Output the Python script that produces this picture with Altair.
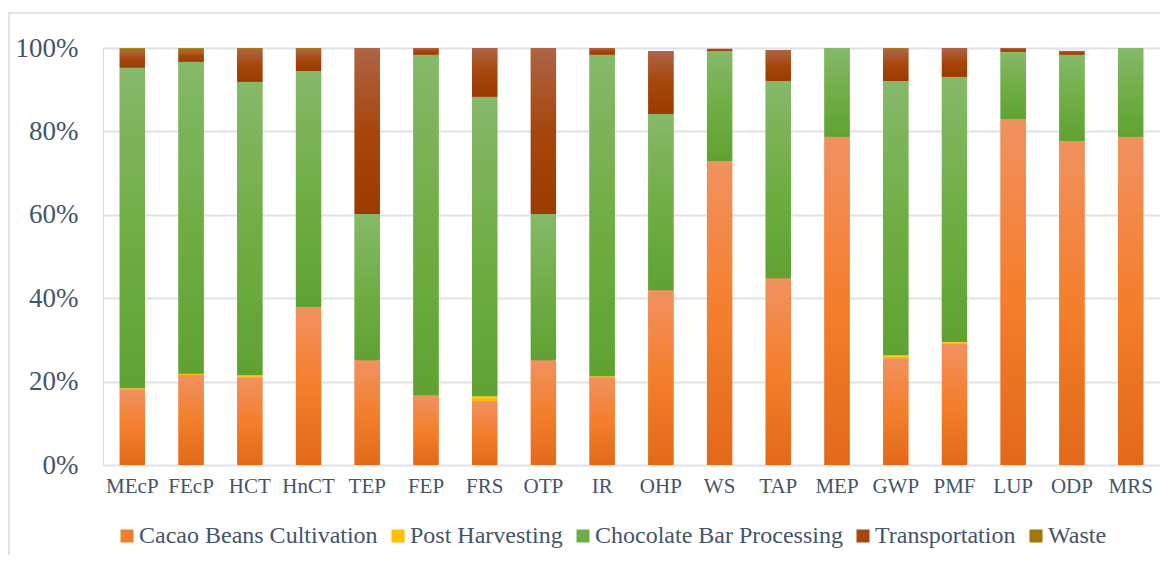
import altair as alt
import pandas as pd

categories = ["MEcP", "FEcP", "HCT", "HnCT", "TEP", "FEP", "FRS", "OTP", "IR",
              "OHP", "WS", "TAP", "MEP", "GWP", "PMF", "LUP", "ODP", "MRS"]
series = ["Cacao Beans Cultivation", "Post Harvesting", "Chocolate Bar Processing",
          "Transportation", "Waste"]

cacao = [18.1, 21.6, 20.9, 37.9, 25.1, 16.7, 15.3, 25.1, 21.0, 41.9, 72.9, 44.8, 78.7, 25.6, 29.0, 83.0, 77.7, 78.7]
post = [0.3, 0.3, 0.6, 0.0, 0.0, 0.0, 1.2, 0.0, 0.3, 0.0, 0.0, 0.0, 0.0, 0.7, 0.5, 0.0, 0.0, 0.0]
choc = [76.9, 74.8, 70.4, 56.6, 35.1, 81.7, 71.8, 35.1, 77.1, 42.3, 26.4, 47.3, 21.3, 65.8, 63.6, 16.1, 20.7, 21.3]
transport = [4.0, 2.6, 7.8, 5.2, 39.8, 1.6, 11.7, 39.8, 1.6, 15.1, 0.5, 7.4, 0.0, 7.5, 6.9, 0.9, 0.9, 0.0]
waste = [0.7, 0.7, 0.3, 0.3, 0.0, 0.0, 0.0, 0.0, 0.0, 0.0, 0.0, 0.0, 0.0, 0.4, 0.0, 0.0, 0.0, 0.0]

legend_colors = ["#F07F2E", "#FFC000", "#6FAD47", "#A5460D", "#A07708"]
gradient_stops = [
    ["#F19160", "#F47F2C", "#E2691A"],
    ["#FFD24A", "#FFC20E", "#EDB600"],
    ["#86B96A", "#71AE45", "#60A232"],
    ["#AE6446", "#A7460B", "#9A3B00"],
    ["#B4883A", "#A37700", "#946A00"],
]

values = [cacao, post, choc, transport, waste]
rows = []
for si, (s, vals) in enumerate(zip(series, values)):
    for c, v in zip(categories, vals):
        rows.append({"cat": c, "series": s, "value": v, "order": si})
df = pd.DataFrame(rows)

FONT = "Liberation Serif"
TXT = "#44546A"

x_axis = alt.Axis(title=None, labelAngle=0, domain=False, ticks=False, grid=False,
                  labelFont=FONT, labelFontSize=21, labelColor=TXT, labelPadding=10)
y_axis = alt.Axis(title=None, domain=False, ticks=False, grid=True,
                  gridColor="#DDE2E8", gridWidth=2,
                  values=[0, 20, 40, 60, 80, 100], labelExpr="datum.value + '%'",
                  labelFont=FONT, labelFontSize=27, labelColor=TXT, labelPadding=25)

x_enc = alt.X("cat:N", sort=categories, axis=x_axis,
              scale=alt.Scale(paddingInner=0.57, paddingOuter=0.285))
y_enc = alt.Y("y0:Q", axis=y_axis, scale=alt.Scale(domain=[0, 100], nice=False, zero=True))
y2_enc = alt.Y2("y1:Q")

base = alt.Chart(df).transform_stack(
    stack="value", groupby=["cat"], as_=["y0", "y1"],
    sort=[alt.SortField("order", order="ascending")]
)

legend_layer = base.mark_bar().encode(
    x=x_enc, y=y_enc, y2=y2_enc,
    color=alt.Color("series:N",
                    scale=alt.Scale(domain=series, range=legend_colors),
                    legend=alt.Legend(title=None, orient="none", legendX=12, legendY=476,
                                      direction="horizontal", columns=5,
                                      symbolType="square", symbolSize=169,
                                      symbolStrokeWidth=0, symbolOpacity=1,
                                      labelFont=FONT, labelFontSize=24, labelColor=TXT,
                                      labelOffset=0, columnPadding=8,
                                      labelLimit=400)),
)

layers = [legend_layer]
for s, stops in zip(series, gradient_stops):
    grad = alt.Gradient(
        gradient="linear", x1=0, x2=0, y1=0, y2=1,
        stops=[alt.GradientStop(color=stops[0], offset=0),
               alt.GradientStop(color=stops[1], offset=0.5),
               alt.GradientStop(color=stops[2], offset=1)],
    )
    layers.append(
        base.transform_filter(alt.datum.series == s)
        .mark_bar(fill=grad, strokeWidth=0)
        .encode(x=x_enc, y=y_enc, y2=y2_enc)
    )

border = alt.Chart(pd.DataFrame({"a": [0]})).mark_rect(
    filled=False, stroke="#D9DDE3", strokeWidth=1.5
).encode(x=alt.value(-94), x2=alt.value(1300), y=alt.value(-35), y2=alt.value(800))
layers.append(border)

chart = alt.layer(*layers).properties(
    width=1057, height=417,
    autosize=alt.AutoSizeParams(type="none"),
    padding={"left": 95, "top": 40, "right": 0, "bottom": 90},
).configure_view(stroke=None).configure(background="white", font=FONT)

chart.save("out.html", embed_options={"renderer": "svg", "actions": False})
